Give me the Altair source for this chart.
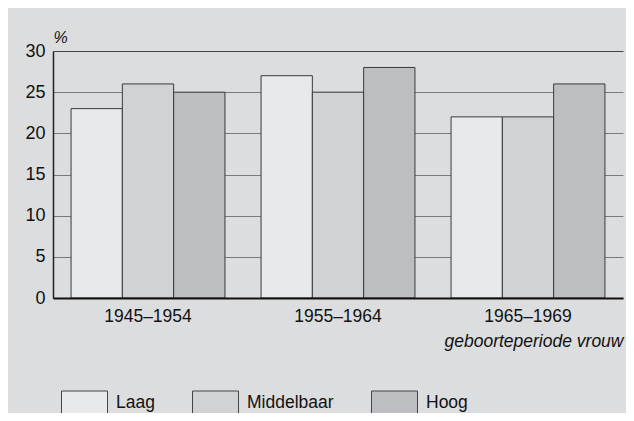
import altair as alt
import pandas as pd

periods = ["1945–1954", "1955–1964", "1965–1969"]
levels = ["Laag", "Middelbaar", "Hoog"]
laag = [23, 27, 22]
middelbaar = [26, 25, 22]
hoog = [25, 28, 26]
colors = ["#e8e9eb", "#d1d2d4", "#bdbec1"]
y_ticks = [0, 5, 10, 15, 20, 25, 30]

rows = []
for i, p in enumerate(periods):
    for lvl, vals in zip(levels, [laag, middelbaar, hoog]):
        rows.append({"periode": p, "niveau": lvl, "waarde": vals[i]})
df = pd.DataFrame(rows)

FONT = "Liberation Sans"
TXT = "#111111"

chart = alt.Chart(df).mark_bar(stroke="#3a3a3a", strokeWidth=1, opacity=1).encode(
    x=alt.X("periode:N", sort=periods,
            scale=alt.Scale(paddingInner=0.19, paddingOuter=0.095),
            axis=alt.Axis(title="geboorteperiode vrouw", labelAngle=0, ticks=False,
                          labelPadding=9, labelFontSize=17.5, labelColor=TXT,
                          domainColor="#111111", domainWidth=2, zindex=1,
                          titleFontStyle="italic", titleFontWeight="normal",
                          titleFontSize=17.5, titleColor=TXT,
                          titleX=570, titleY=48, titleAlign="right",
                          titleBaseline="alphabetic")),
    xOffset=alt.XOffset("niveau:N", sort=levels,
                        scale=alt.Scale(paddingInner=0, paddingOuter=0)),
    y=alt.Y("waarde:Q", scale=alt.Scale(domain=[0, 30], nice=False),
            axis=alt.Axis(values=y_ticks, title="%", ticks=False, labelPadding=8,
                          labelFontSize=18, labelColor=TXT,
                          domainColor="#222222", domainWidth=1.5,
                          gridColor={"condition": {"test": "datum.value === 30", "value": "#444444"},
                                     "value": "#7a7a7a"},
                          gridWidth=1.2,
                          titleAngle=0, titleX=0, titleY=-9, titleAlign="left",
                          titleBaseline="alphabetic", titleFontStyle="italic",
                          titleFontWeight="normal", titleFontSize=16,
                          titleColor=TXT)),
    color=alt.Color("niveau:N", sort=levels,
                    scale=alt.Scale(domain=levels, range=colors),
                    legend=alt.Legend(title=None, orient="none", direction="horizontal",
                                      legendX=8, legendY=328,
                                      symbolType="M-1,-0.5H1V0.5H-1Z",
                                      symbolSize=2116, symbolStrokeColor="#444444",
                                      symbolStrokeWidth=1, symbolOpacity=1,
                                      labelFontSize=17.5, labelColor=TXT,
                                      labelOffset=8, columnPadding=35,
                                      labelBaseline="middle")),
).properties(
    width=570, height=247,
    autosize=alt.AutoSizeParams(type="none"),
    padding={"left": 45, "top": 43, "right": 3, "bottom": 115},
    background="#dcdddf",
).configure_view(
    fill="white", stroke="#444444", strokeWidth=1.5
).configure(
    font=FONT
)

chart.save("out.html", embed_options={"renderer": "svg", "actions": False})
